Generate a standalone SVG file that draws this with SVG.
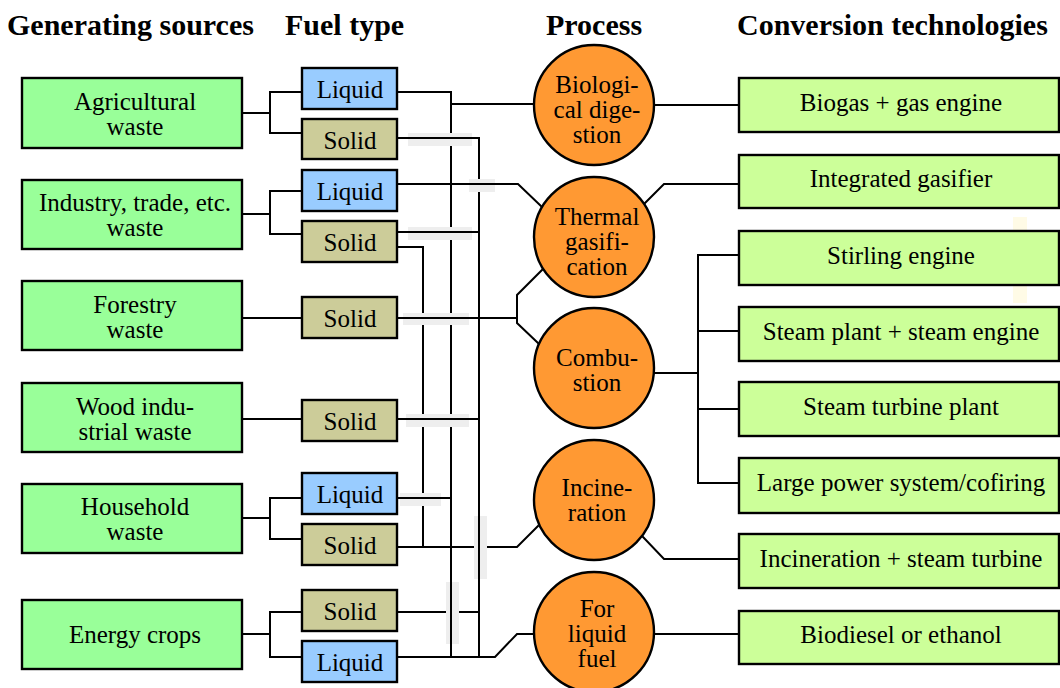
<svg xmlns="http://www.w3.org/2000/svg" width="1060" height="688" viewBox="0 0 1060 688">
<style>
text{font-family:"Liberation Serif","Times New Roman",serif;fill:#000;}
.hd{font-size:30px;font-weight:bold;}
.t{font-size:25px;text-anchor:middle;}
.src rect{fill:#99ff99;stroke:#000;stroke-width:2.4;}
.liq rect{fill:#99ccff;stroke:#000;stroke-width:2.4;}
.sol rect{fill:#cccc99;stroke:#000;stroke-width:2.4;}
.tech rect{fill:#ccff99;stroke:#000;stroke-width:2.4;}
.proc circle{fill:#ff9933;stroke:#000;stroke-width:2.4;}
.ln{fill:none;stroke:#000;stroke-width:2;stroke-linejoin:miter;stroke-linecap:square;}
.gap{fill:#eeeeee;}
</style>
<rect width="1060" height="688" fill="#ffffff"/>
<g id="headers">
<text class="hd" x="7" y="35">Generating sources</text>
<text class="hd" x="285" y="35">Fuel type</text>
<text class="hd" x="546" y="35">Process</text>
<text class="hd" x="737" y="35">Conversion technologies</text>
</g>
<rect x="1013" y="217" width="14" height="86" fill="#fffbe6"/>
<g id="connectors">
<path class="ln" d="M242,113 H270 M270,92 V133 M270,92 H302 M270,133 H302
M242,214 H270 M270,191 V234 M270,191 H302 M270,234 H302
M242,318 H302
M242,419 H302
M242,518 H270 M270,498 V539 M270,498 H302 M270,539 H302
M242,634 H270 M270,612 V657 M270,612 H302 M270,657 H302"/>
<path class="ln" d="M397,92 H451
M397,138 H479
M397,184 H518 L542,207
M397,232 H479
M397,247 H423
M397,318 H517
M542,270 L517,295 V323 L538,343
M397,419 H479
M397,498 H451
M397,547 H517 L538,526
M397,612 H479
M397,657 H495 L517,634 H534
M423,247 V547
M451,92 V657
M479,138 V657
M451,104 H534"/>
<path class="ln" d="M654,105 H739
M644,204 L664,184 H739
M654,373 H698 M698,255 V483 M698,255 H739 M698,331 H739 M698,409 H739 M698,483 H739
M643,537 L664,559 H739
M654,634 H739"/>
<g id="crossings">
<rect class="gap" x="408" y="133" width="64" height="13"/>
<rect class="gap" x="469" y="179" width="26" height="13"/>
<rect class="gap" x="408" y="227" width="64" height="13"/>
<rect class="gap" x="403" y="313" width="66" height="12"/>
<rect class="gap" x="406" y="414" width="63" height="13"/>
<rect class="gap" x="400" y="493" width="41" height="13"/>
<rect class="gap" x="474" y="516" width="13" height="63"/>
<rect class="gap" x="446" y="582" width="13" height="62"/>
<path class="ln" style="stroke-linecap:butt" d="M406,138 H474 M467,184 H497 M406,232 H479 M401,318 H471 M404,419 H471 M398,498 H443 M479,514 V581 M451,580 V646"/>
</g>
</g>
<g id="src-agricultural" class="src"><rect x="22" y="78" width="220" height="70"/><text class="t" x="135" y="110">Agricultural</text><text class="t" x="135" y="135">waste</text></g>
<g id="src-industry" class="src"><rect x="22" y="180" width="220" height="69"/><text class="t" x="135" y="211">Industry, trade, etc.</text><text class="t" x="135" y="236">waste</text></g>
<g id="src-forestry" class="src"><rect x="22" y="281" width="220" height="69"/><text class="t" x="135" y="313">Forestry</text><text class="t" x="135" y="338">waste</text></g>
<g id="src-wood" class="src"><rect x="22" y="383" width="220" height="69"/><text class="t" x="135" y="415">Wood indu-</text><text class="t" x="135" y="440">strial waste</text></g>
<g id="src-household" class="src"><rect x="22" y="484" width="220" height="69"/><text class="t" x="135" y="515">Household</text><text class="t" x="135" y="540">waste</text></g>
<g id="src-energy" class="src"><rect x="22" y="600" width="220" height="69"/><text class="t" x="135" y="643">Energy crops</text></g>

<g id="fuel-liquid-1" class="liq"><rect x="302" y="68" width="95" height="41"/><text class="t" x="350" y="98">Liquid</text></g>
<g id="fuel-solid-1" class="sol"><rect x="302" y="119" width="95" height="40"/><text class="t" x="350" y="149">Solid</text></g>
<g id="fuel-liquid-2" class="liq"><rect x="302" y="170" width="95" height="41"/><text class="t" x="350" y="200">Liquid</text></g>
<g id="fuel-solid-2" class="sol"><rect x="302" y="221" width="95" height="41"/><text class="t" x="350" y="251">Solid</text></g>
<g id="fuel-solid-3" class="sol"><rect x="302" y="297" width="95" height="41"/><text class="t" x="350" y="327">Solid</text></g>
<g id="fuel-solid-4" class="sol"><rect x="302" y="400" width="95" height="41"/><text class="t" x="350" y="430">Solid</text></g>
<g id="fuel-liquid-3" class="liq"><rect x="302" y="473" width="95" height="41"/><text class="t" x="350" y="503">Liquid</text></g>
<g id="fuel-solid-5" class="sol"><rect x="302" y="524" width="95" height="41"/><text class="t" x="350" y="554">Solid</text></g>
<g id="fuel-solid-6" class="sol"><rect x="302" y="590" width="95" height="41"/><text class="t" x="350" y="620">Solid</text></g>
<g id="fuel-liquid-4" class="liq"><rect x="302" y="641" width="95" height="41"/><text class="t" x="350" y="671">Liquid</text></g>

<g id="proc-bio" class="proc"><circle cx="594" cy="105" r="60"/><text class="t" x="597" y="93">Biologi-</text><text class="t" x="597" y="118">cal dige-</text><text class="t" x="597" y="143">stion</text></g>
<g id="proc-gasification" class="proc"><circle cx="594" cy="237" r="60"/><text class="t" x="597" y="225">Thermal</text><text class="t" x="597" y="250">gasifi-</text><text class="t" x="597" y="275">cation</text></g>
<g id="proc-combustion" class="proc"><circle cx="594" cy="368" r="60"/><text class="t" x="597" y="366">Combu-</text><text class="t" x="597" y="391">stion</text></g>
<g id="proc-incineration" class="proc"><circle cx="594" cy="500" r="60"/><text class="t" x="597" y="496">Incine-</text><text class="t" x="597" y="521">ration</text></g>
<g id="proc-liquidfuel" class="proc"><circle cx="594" cy="632" r="60"/><text class="t" x="597" y="617">For</text><text class="t" x="597" y="642">liquid</text><text class="t" x="597" y="667">fuel</text></g>

<g id="tech-biogas" class="tech"><rect x="739" y="78" width="320" height="54"/><text class="t" x="901" y="111">Biogas + gas engine</text></g>
<g id="tech-gasifier" class="tech"><rect x="739" y="155" width="320" height="53"/><text class="t" x="901" y="187">Integrated gasifier</text></g>
<g id="tech-stirling" class="tech"><rect x="739" y="231" width="320" height="54"/><text class="t" x="901" y="264">Stirling engine</text></g>
<g id="tech-steamplant" class="tech"><rect x="739" y="307" width="320" height="54"/><text class="t" x="901" y="340">Steam plant + steam engine</text></g>
<g id="tech-steamturbine" class="tech"><rect x="739" y="382" width="320" height="54"/><text class="t" x="901" y="415">Steam turbine plant</text></g>
<g id="tech-largepower" class="tech"><rect x="739" y="458" width="320" height="55"/><text class="t" x="901" y="491">Large power system/cofiring</text></g>
<g id="tech-incineration" class="tech"><rect x="739" y="534" width="320" height="54"/><text class="t" x="901" y="567">Incineration + steam turbine</text></g>
<g id="tech-biodiesel" class="tech"><rect x="739" y="611" width="320" height="53"/><text class="t" x="901" y="643">Biodiesel or ethanol</text></g>
</svg>
